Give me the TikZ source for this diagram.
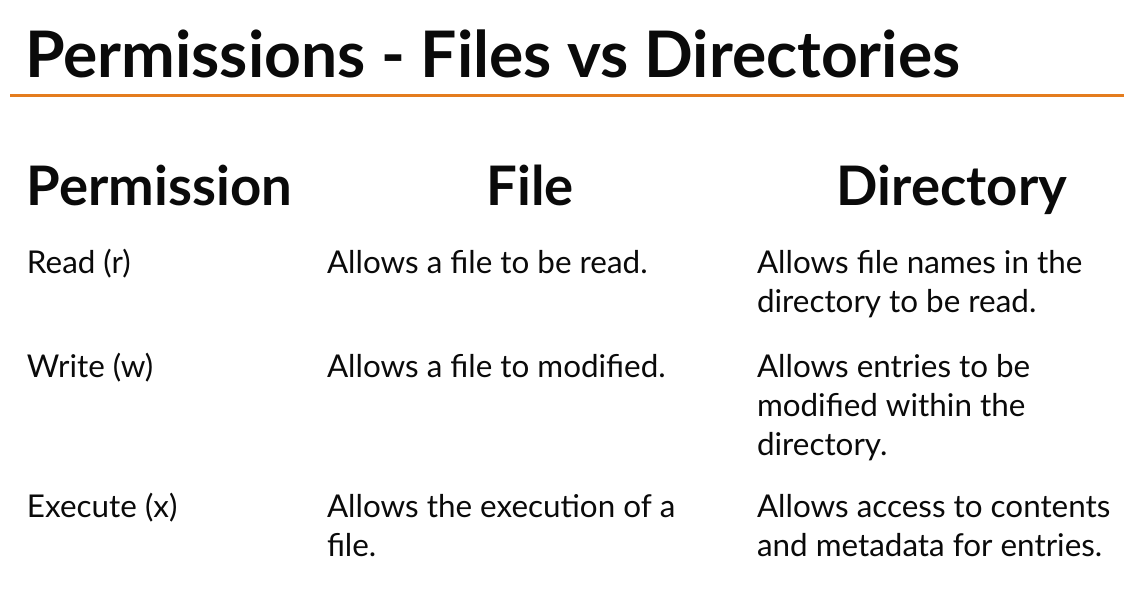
\documentclass[tikz,border=0pt]{standalone}
\usepackage{fontspec}
\setmainfont{Lato}
\definecolor{accent}{RGB}{228,124,30}
\definecolor{ink}{RGB}{10,10,10}
\begin{document}
\begin{tikzpicture}[x=1pt,y=-1pt,
  every node/.style={inner sep=0pt,outer sep=0pt,text=ink},
  titletext/.style={anchor=base west,font=\fontsize{64.2}{72}\selectfont\bfseries},
  headtext/.style={anchor=base,font=\fontsize{54.5}{62}\selectfont\bfseries},
  bodytext/.style={anchor=base west,font=\fontsize{31.4}{39}\selectfont}]
\useasboundingbox[fill=white] (0,0) rectangle (1134,590);
\node[titletext] (title) at (25,77) {Permissions - Files vs Directories};
\coordinate (ruleL) at (10,95);
\coordinate (ruleR) at (1124,95);
\draw[accent,line width=3pt] (ruleL) -- (ruleR);
\node[headtext,anchor=base west] (hperm) at (27,205) {Permission};
\node[headtext] (hfile) at (530,205) {File};
\node[headtext] (hdir) at (952,205) {Directory};
% row 1
\node[bodytext] (r1a) at (27,273) {Read (r)};
\node[bodytext] (r1b) at (327,273) {Allows a file to be read.};
\node[bodytext] (r1c1) at (757,273) {Allows file names in the};
\node[bodytext] (r1c2) at (757,312) {directory to be read.};
% row 2
\node[bodytext] (r2a) at (27,377) {Write (w)};
\node[bodytext] (r2b) at (327,377) {Allows a file to modified.};
\node[bodytext] (r2c1) at (757,377) {Allows entries to be};
\node[bodytext] (r2c2) at (757,416) {modified within the};
\node[bodytext] (r2c3) at (757,455) {directory.};
% row 3
\node[bodytext] (r3a) at (27,517) {Execute (x)};
\node[bodytext] (r3b1) at (327,517) {Allows the execution of a};
\node[bodytext] (r3b2) at (327,556) {file.};
\node[bodytext] (r3c1) at (757,517) {Allows access to contents};
\node[bodytext] (r3c2) at (757,556) {and metadata for entries.};
\end{tikzpicture}
\end{document}
